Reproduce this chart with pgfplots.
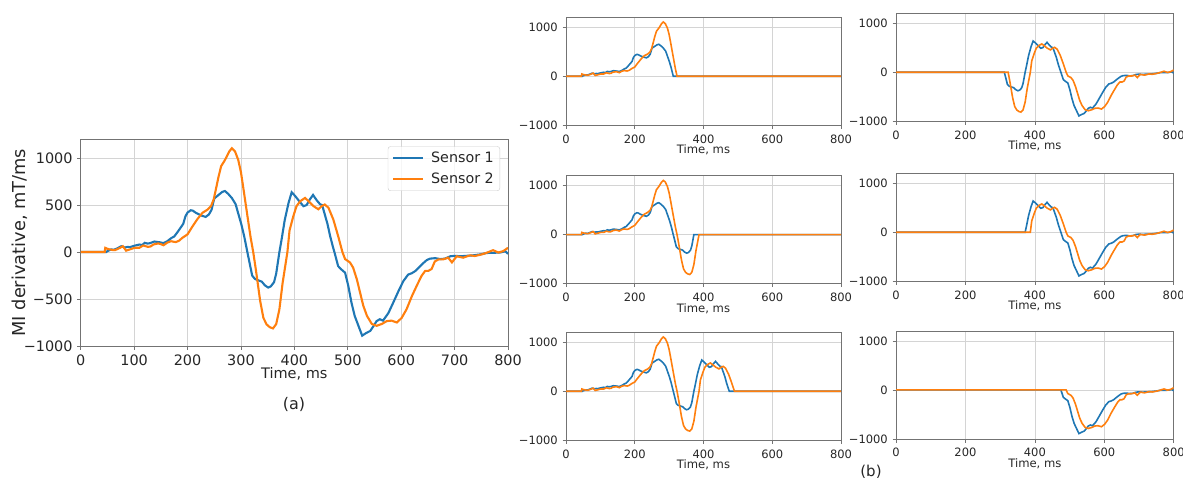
\documentclass[border=0pt]{standalone}
\usepackage{pgfplots}
\pgfplotsset{compat=1.18}
\usepackage{pgfplotstable}
\usepackage{fontspec}
\setmainfont{DejaVu Sans}
\definecolor{c1}{HTML}{1F77B4}
\definecolor{c2}{HTML}{FF7F0E}

% Sensor 1
\pgfplotstableread{
t v
0 0
48 0
50 10
57 28
62 25
67 35
76 62
82 48
88 55
92 52
101 68
110 80
115 75
120 98
125 90
130 95
138 112
148 104
155 95
162 115
170 150
175 165
181 210
187 259
192 300
196 380
200 420
206 445
210 440
215 420
225 390
234 374
240 400
245 450
250 570
259 612
265 640
270 650
276 620
283 575
290 510
296 390
301 290
306 170
312 0
316 -110
321 -250
326 -285
331 -298
339 -315
345 -355
351 -378
356 -365
362 -320
366 -230
372 0
376 130
382 340
389 520
395 636
401 600
408 550
417 488
423 500
429 560
435 608
442 550
448 510
452 500
457 400
462 300
467 170
472 60
475 0
482 -150
488 -185
495 -220
501 -360
507 -540
513 -680
520 -785
527 -890
535 -860
542 -840
548 -790
554 -735
560 -715
566 -730
576 -650
585 -540
595 -415
604 -310
613 -240
620 -225
627 -200
632 -170
642 -115
648 -85
654 -70
664 -65
673 -75
682 -70
692 -45
701 -40
710 -45
723 -40
735 -35
748 -25
760 -10
773 -8
785 -5
795 8
800 -20
}\sone

% Sensor 2
\pgfplotstableread{
t v
0 0
45 0
46 45
50 35
54 28
60 22
64 20
70 35
74 46
79 62
85 15
92 28
101 45
110 46
117 70
126 55
131 60
136 80
145 92
150 85
155 72
162 100
169 115
178 106
184 120
190 150
200 188
209 270
218 347
228 418
237 450
244 490
249 560
253 665
258 800
263 915
268 960
272 1000
278 1070
283 1105
289 1070
295 980
300 850
304 700
312 390
318 160
323 0
328 -190
336 -520
342 -700
348 -770
354 -800
360 -813
366 -767
372 -610
378 -330
387 0
391 230
398 380
404 488
411 541
420 576
426 545
436 488
445 455
451 488
457 506
464 470
473 346
482 170
490 0
495 -75
504 -110
510 -165
517 -290
523 -430
529 -570
536 -680
545 -765
554 -785
564 -765
573 -735
582 -730
592 -750
601 -700
610 -610
620 -470
629 -360
638 -255
645 -200
651 -200
657 -180
663 -100
670 -78
679 -77
688 -60
695 -110
704 -45
716 -60
729 -35
738 -42
751 -25
760 -8
772 20
782 -5
791 10
800 45
}\stwo

\pgfplotsset{
  base/.style={
    scale only axis,
    xmin=0, xmax=800, ymin=-1000, ymax=1200,
    grid=major,
    major grid style={black!17, line width=0.6pt},
    axis line style={black!55, line width=0.8pt},
    tick style={black!55, line width=0.6pt},
    tick align=outside,
    xtick pos=lower, ytick pos=left,
    major tick length=3.5pt,
    /pgf/number format/assume math mode=true,
    /pgf/number format/1000 sep={},
    xticklabel style={anchor=north, inner sep=0pt, yshift=-5.5pt, text=black!85},
    yticklabel style={anchor=east, inner sep=0pt, xshift=-4.5pt, text=black!85},
    every axis x label/.style={at={(axis description cs:0.5,0)}, anchor=north, inner sep=0pt, text=black!85},
    every axis y label/.style={at={(axis description cs:-0.1437,0.5)}, anchor=center, rotate=90, text=black!85},
  },
  small/.style={
    base,
    width=275pt, height=108pt,
    xtick={0,200,400,600,800},
    ytick={-1000,0,1000},
    yticklabels={−1000,0,1000},
    tick label style={font=\fontsize{11.5}{13}\selectfont},
    xlabel={Time, ms},
    xlabel style={font=\fontsize{11.6}{13}\selectfont, yshift=-19.5pt},
  },
  sl/.style={line width=1.6pt},
}

\begin{document}
\begin{tikzpicture}
\useasboundingbox (0,0) rectangle (1183pt,-479pt);

% ---------- (a) main axis ----------
\begin{axis}[
  base,
  at={(80.7pt,-346pt)}, anchor=south west,
  width=427.3pt, height=206.7pt,
  xtick={0,100,...,800},
  ytick={-1000,-500,0,500,1000},
  yticklabels={−1000,−500,0,500,1000},
  tick label style={font=\fontsize{14.4}{16}\selectfont},
  xlabel={Time, ms},
  xlabel style={font=\fontsize{14.5}{16}\selectfont, yshift=-21.3pt},
  ylabel={MI derivative, mT/ms},
  ylabel style={font=\fontsize{17.8}{20}\selectfont},
  legend cell align=left,
  legend style={at={(axis description cs:1,1)}, anchor=north east, xshift=-8pt, yshift=-7pt,
    draw=black!20, rounded corners=2.5pt, fill=white, fill opacity=0.8, text opacity=1,
    font=\fontsize{14.3}{16}\selectfont, text=black!85,
    inner xsep=4pt, inner ysep=3.5pt, row sep=5pt,
    /tikz/every odd column/.append style={column sep=5pt}},
  legend image code/.code={\draw[#1] (0pt,0pt) -- (30pt,0pt);},
]
\addplot[c1, line width=2.1pt] table[x=t, y=v] {\sone};
\addlegendentry{Sensor 1}
\addplot[c2, line width=2.1pt] table[x=t, y=v] {\stwo};
\addlegendentry{Sensor 2}
\end{axis}
\node[font=\fontsize{16}{18}\selectfont, text=black!85] at (294pt,-404pt) {(a)};

% ---------- (b) left column ----------
\begin{axis}[small, at={(566pt,-17.3pt)}, anchor=north west]
\addplot[c1, sl] table[x=t, y expr={\thisrow{t}>312.5 ? 0 : \thisrow{v}}] {\sone};
\addplot[c2, sl] table[x=t, y expr={\thisrow{t}>323.5 ? 0 : \thisrow{v}}] {\stwo};
\end{axis}
\begin{axis}[small, at={(566pt,-175.7pt)}, anchor=north west]
\addplot[c1, sl] table[x=t, y expr={\thisrow{t}>372.5 ? 0 : \thisrow{v}}] {\sone};
\addplot[c2, sl] table[x=t, y expr={\thisrow{t}>387.5 ? 0 : \thisrow{v}}] {\stwo};
\end{axis}
\begin{axis}[small, at={(566pt,-332.3pt)}, anchor=north west]
\addplot[c1, sl] table[x=t, y expr={\thisrow{t}>475.5 ? 0 : \thisrow{v}}] {\sone};
\addplot[c2, sl] table[x=t, y expr={\thisrow{t}>490.5 ? 0 : \thisrow{v}}] {\stwo};
\end{axis}

% ---------- (b) right column ----------
\begin{axis}[small, width=277.7pt, at={(896pt,-13.3pt)}, anchor=north west]
\addplot[c1, sl] table[x=t, y expr={\thisrow{t}<311.5 ? 0 : \thisrow{v}}] {\sone};
\addplot[c2, sl] table[x=t, y expr={\thisrow{t}<322.5 ? 0 : \thisrow{v}}] {\stwo};
\end{axis}
\begin{axis}[small, width=277.7pt, at={(896pt,-173.3pt)}, anchor=north west]
\addplot[c1, sl] table[x=t, y expr={\thisrow{t}<371.5 ? 0 : \thisrow{v}}] {\sone};
\addplot[c2, sl] table[x=t, y expr={\thisrow{t}<386.5 ? 0 : \thisrow{v}}] {\stwo};
\end{axis}
\begin{axis}[small, width=277.7pt, at={(896pt,-331pt)}, anchor=north west]
\addplot[c1, sl] table[x=t, y expr={\thisrow{t}<474.5 ? 0 : \thisrow{v}}] {\sone};
\addplot[c2, sl] table[x=t, y expr={\thisrow{t}<489.5 ? 0 : \thisrow{v}}] {\stwo};
\end{axis}
\node[font=\fontsize{15}{17}\selectfont, text=black!85] at (871pt,-472pt) {(b)};
\end{tikzpicture}
\end{document}
